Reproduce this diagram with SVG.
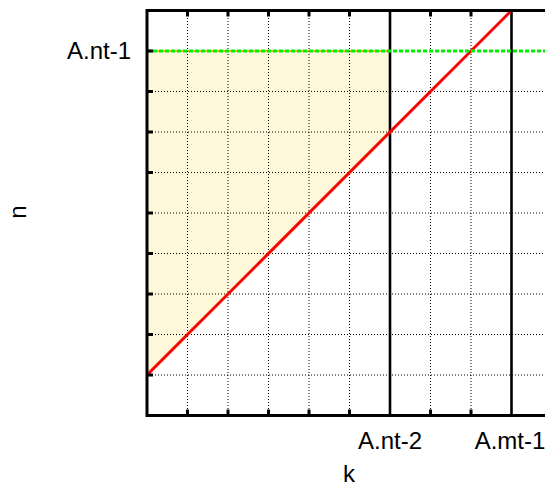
<svg xmlns="http://www.w3.org/2000/svg" width="545" height="486" viewBox="0 0 545 486">
<style>
.grid{stroke:#000;stroke-width:1;stroke-dasharray:1,2;fill:none}
.tick{stroke:#000;stroke-width:3;fill:none}
.vbar{stroke:#000;stroke-width:2.6;fill:none}
.lbl{font-family:"Liberation Sans",Arial,Helvetica,sans-serif;font-size:24px;fill:#000}
</style>
<rect x="0" y="0" width="545" height="486" fill="#fff"/>
<g id="fill-region">
<polygon points="147,51 390,51 390,132 147,375" fill="#fff7da" stroke="#eab81e" stroke-width="2"/>
</g>
<g id="grid">
<path class="grid" d="M187.5,12V414 M228,12V414 M268.5,12V414 M309,12V414 M349.5,12V414 M430.5,12V414 M471,12V414 M149,91.5H545 M149,132H545 M149,172.5H545 M149,213H545 M149,253.5H545 M149,294H545 M149,334.5H545 M149,375H545"/>
</g>
<g id="connectors">
<line class="vbar" x1="390" y1="10.5" x2="390" y2="415.5"/>
<line class="vbar" x1="511.5" y1="10.5" x2="511.5" y2="415.5"/>
<line x1="147" y1="375" x2="511.5" y2="10.5" stroke="#ff0000" stroke-width="3"/>
<line x1="147" y1="51" x2="545" y2="51" stroke="#00ee00" stroke-width="3" stroke-dasharray="4,2"/>
</g>
<g id="frame">
<path d="M147,9V417 M145.5,415.5H545 M145.5,10.5H545" stroke="#000" stroke-width="3" fill="none"/>
<path class="tick" d="M187.5,10.5v6 M228,10.5v6 M268.5,10.5v6 M309,10.5v6 M349.5,10.5v6 M430.5,10.5v6 M471,10.5v6 M187.5,415.5v-6 M228,415.5v-6 M268.5,415.5v-6 M309,415.5v-6 M349.5,415.5v-6 M430.5,415.5v-6 M471,415.5v-6 M147,51h6 M147,91.5h6 M147,132h6 M147,172.5h6 M147,213h6 M147,253.5h6 M147,294h6 M147,334.5h6 M147,375h6"/>
</g>
<g id="labels">
<text class="lbl" x="131" y="58.5" text-anchor="end">A.nt-1</text>
<text class="lbl" x="390" y="449" text-anchor="middle">A.nt-2</text>
<text class="lbl" x="510" y="449" text-anchor="middle">A.mt-1</text>
<text class="lbl" x="349" y="482" text-anchor="middle">k</text>
<text class="lbl" x="0" y="0" text-anchor="middle" transform="translate(26,212) rotate(-90)">n</text>
</g>
</svg>
